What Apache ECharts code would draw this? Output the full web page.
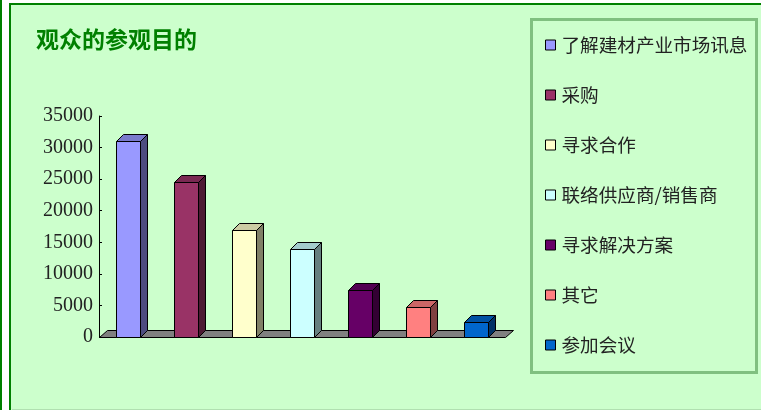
<!DOCTYPE html>
<html>
<head>
<meta charset="utf-8">
<title>观众的参观目的</title>
<script src="https://cdn.jsdelivr.net/npm/echarts@6/dist/echarts.min.js"></script>
<style>
  html, body { margin: 0; padding: 0; background: #fff; }
  #chart { width: 761px; height: 410px; }
</style>
</head>
<body>
<div id="chart"></div>
<script>
// 数据
var seriesNames = ['了解建材产业市场讯息', '采购', '寻求合作', '联络供应商/销售商', '寻求解决方案', '其它', '参加会议'];
var seriesValues = [31000, 24600, 17000, 14000, 7500, 4700, 2400];
var yTicks = [0, 5000, 10000, 15000, 20000, 25000, 30000, 35000];
// 颜色：正面 / 顶面 / 侧面
var frontColors = ['#9999FF', '#993366', '#FFFFCC', '#CCFFFF', '#660066', '#FF8080', '#0066CC'];
var topColors   = ['#7A7ACC', '#7A2952', '#CCCCA3', '#A3CCCC', '#520052', '#CC6666', '#0052A3'];
var sideColors  = ['#4D4D80', '#4D1A33', '#808066', '#668080', '#330033', '#804040', '#003366'];

var DEPTH = 7;
var BAR_W = 24;

var chart = echarts.init(document.getElementById('chart'), null, { renderer: 'canvas' });

function barRender(idx) {
    return function (params, api) {
        var top = api.coord([api.value(0), api.value(1)]);
        var base = api.coord([api.value(0), 0]);
        var x = Math.round(top[0] - BAR_W / 2) + 0.5;
        var ty = Math.round(top[1]) + 0.5;
        var by = Math.round(base[1]) + 0.5;
        var d = DEPTH;
        var line = { stroke: '#000', lineWidth: 1 };
        return {
            type: 'group',
            children: [
                { type: 'polygon', shape: { points: [[x + BAR_W, ty], [x + BAR_W + d, ty - d], [x + BAR_W + d, by - d], [x + BAR_W, by]] },
                  style: Object.assign({ fill: sideColors[idx] }, line) },
                { type: 'polygon', shape: { points: [[x, ty], [x + d, ty - d], [x + BAR_W + d, ty - d], [x + BAR_W, ty]] },
                  style: Object.assign({ fill: topColors[idx] }, line) },
                { type: 'rect', shape: { x: x, y: ty, width: BAR_W, height: by - ty },
                  style: Object.assign({ fill: frontColors[idx] }, line) }
            ]
        };
    };
}

// 地板
var series = [{
    type: 'custom',
    name: 'floor',
    silent: true,
    z: 1,
    data: [[0, 0]],
    renderItem: function (params, api) {
        var cs = params.coordSys;
        var y0 = Math.round(cs.y + cs.height) + 0.5;
        var x0 = Math.round(cs.x) + 0.5;
        var x1 = Math.round(cs.x + cs.width) + 0.5;
        var d = DEPTH;
        return {
            type: 'polygon',
            shape: { points: [[x0, y0], [x0 + d + 1, y0 - d], [x1 + d + 1, y0 - d], [x1, y0]] },
            style: { fill: '#808080', stroke: '#000', lineWidth: 1 }
        };
    }
}];

seriesNames.forEach(function (name, i) {
    series.push({
        type: 'custom',
        name: name,
        z: 2,
        itemStyle: { color: frontColors[i], borderColor: '#000', borderWidth: 1 },
        data: [[i, seriesValues[i]]],
        renderItem: barRender(i)
    });
});

chart.setOption({
    animation: false,
    backgroundColor: '#fff',
    title: {
        text: '观众的参观目的',
        left: 36,
        top: 28,
        padding: 0,
        textStyle: {
            color: '#008000',
            fontSize: 23,
            fontWeight: 'bold',
            fontFamily: 'Noto Sans CJK SC'
        }
    },
    graphic: [
        { type: 'rect', z: -10, shape: { x: 0, y: 0, width: 2, height: 410 }, style: { fill: '#008000' } },
        { type: 'rect', z: -10, shape: { x: 10, y: 4, width: 760, height: 420 },
          style: { fill: '#CCFFCC', stroke: '#008000', lineWidth: 2 } },
        { type: 'rect', z: -9, shape: { x: 12, y: 409, width: 760, height: 1 }, style: { fill: '#B0E0B0' } },
        { type: 'rect', z: -9, shape: { x: 531.5, y: 19.5, width: 225, height: 353 },
          style: { fill: 'none', stroke: '#80C080', lineWidth: 3 } }
    ],
    legend: {
        data: seriesNames,
        orient: 'vertical',
        left: 545,
        top: 35,
        padding: 0,
        itemGap: 30,
        itemWidth: 10,
        itemHeight: 10,
        icon: 'rect',
        itemStyle: { borderColor: '#000', borderWidth: 1 },
        textStyle: {
            fontSize: 18.6,
            lineHeight: 20,
            color: '#222',
            padding: [0, 0, 0, 1],
            fontFamily: 'Noto Sans CJK SC'
        }
    },
    grid: {
        left: 99,
        top: 116,
        right: 256,
        bottom: 73
    },
    xAxis: {
        type: 'category',
        data: seriesNames,
        axisLine: { show: false },
        axisTick: { show: false },
        axisLabel: { show: false },
        splitLine: { show: false }
    },
    yAxis: {
        type: 'value',
        min: yTicks[0],
        max: yTicks[yTicks.length - 1],
        interval: 5000,
        axisLine: { show: true, lineStyle: { color: '#000', width: 1 } },
        axisTick: { show: true, inside: true, length: 3, lineStyle: { color: '#000' } },
        splitLine: { show: false },
        axisLabel: {
            margin: 6,
            color: '#222',
            fontSize: 20,
            fontFamily: 'Liberation Serif',
            formatter: function (v) { return String(v); }
        }
    },
    series: series
});
</script>
</body>
</html>
